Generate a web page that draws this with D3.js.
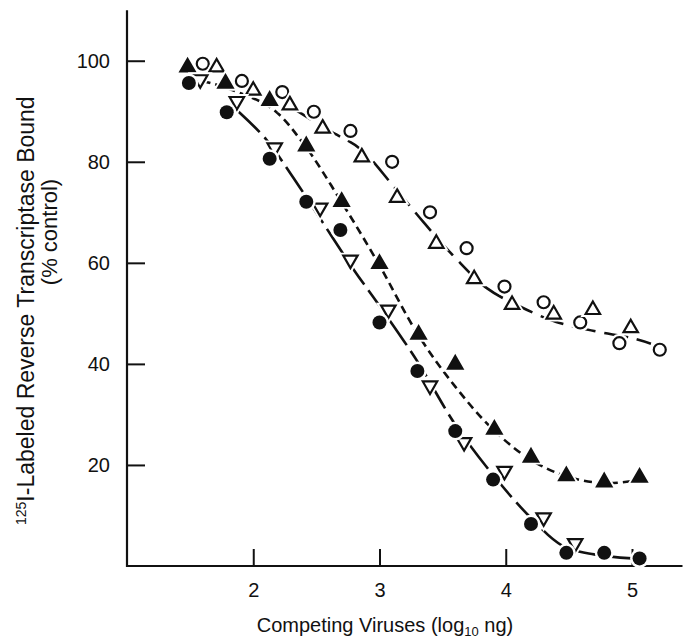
<!DOCTYPE html>
<html>
<head>
<meta charset="utf-8">
<script src="https://cdn.jsdelivr.net/npm/d3@7/dist/d3.min.js"></script>
<style>
  body { margin: 0; background: #fff; }
  text { font-family: "Liberation Sans", Arial, sans-serif; fill: #111; }
</style>
</head>
<body>
<div id="chart"></div>
<script>
// tick values
var xTicks = [2, 3, 4, 5];
var yTicks = [20, 40, 60, 80, 100];

// data points [log10 ng, % control]
var filledCircles = [[1.49, 95.6], [1.79, 89.8], [2.13, 80.6], [2.42, 72.1], [2.69, 66.5], [3.0, 48.2],
  [3.30, 38.6], [3.60, 26.7], [3.90, 17.1], [4.20, 8.3], [4.48, 2.6], [4.78, 2.6], [5.06, 1.5]];
var openDownTriangles = [[1.58, 96.3], [1.87, 92.0], [2.17, 82.8], [2.53, 70.9], [2.77, 60.6], [3.07, 50.7],
  [3.40, 35.7], [3.67, 24.5], [3.99, 18.8], [4.30, 9.6], [4.55, 4.5]];
var filledTriangles = [[1.48, 98.7], [1.78, 95.5], [2.13, 92.1], [2.42, 83.1], [2.70, 72.1], [3.0, 59.8],
  [3.31, 45.8], [3.60, 39.9], [3.91, 27.0], [4.20, 21.5], [4.48, 17.8], [4.78, 16.6], [5.06, 17.5]];
var openCircles = [[1.60, 99.4], [1.91, 96.0], [2.23, 93.8], [2.48, 89.9], [2.77, 86.1], [3.10, 80.0],
  [3.40, 70.0], [3.69, 62.9], [3.99, 55.3], [4.30, 52.2], [4.59, 48.2], [4.90, 44.1], [5.22, 42.8]];
var openUpTriangles = [[1.71, 98.7], [2.0, 94.1], [2.29, 91.2], [2.55, 86.6], [2.86, 80.9], [3.14, 72.9],
  [3.45, 63.8], [3.75, 56.8], [4.05, 51.7], [4.38, 49.8], [4.69, 50.7], [4.99, 47.1]];

// hand-fitted curves
var curveA = [[1.88, 90.0], [2.1, 84.5], [2.3, 77.5], [2.55, 68.0], [2.8, 58.5], [3.0, 51.5], [3.3, 40.5],
  [3.6, 28.0], [3.9, 18.0], [4.2, 9.5], [4.45, 4.0], [4.7, 2.3], [5.0, 1.5]];
var curveB = [[1.6, 96.0], [1.8, 94.5], [2.15, 90.5], [2.4, 83.5], [2.7, 72.0], [3.0, 59.5], [3.3, 46.0],
  [3.6, 35.5], [3.9, 27.0], [4.2, 21.0], [4.5, 17.6], [4.8, 16.4], [5.05, 17.0]];
var curveC = [[2.3, 90.8], [2.6, 86.2], [2.85, 82.5], [3.1, 75.5], [3.35, 68.0], [3.6, 61.0], [3.85, 55.0],
  [4.1, 51.5], [4.4, 48.3], [4.7, 46.5], [5.0, 45.1], [5.15, 44.0]];

var svgWidth = 697;
var svgHeight = 642;

var svg = d3.select("#chart")
  .append("svg")
  .attr("width", svgWidth)
  .attr("height", svgHeight);

var xScale = d3.scaleLinear().domain([1, 5.4]).range([127, 682.5]);
var yScale = d3.scaleLinear().domain([0, 110]).range([566, 10.2]);

// axes
svg.append("line")
  .attr("x1", xScale(1)).attr("x2", xScale(1))
  .attr("y1", yScale(110)).attr("y2", yScale(0) + 1)
  .attr("stroke", "#111").attr("stroke-width", 2.2);
svg.append("line")
  .attr("x1", xScale(1) - 1).attr("x2", xScale(5.4))
  .attr("y1", yScale(0)).attr("y2", yScale(0))
  .attr("stroke", "#111").attr("stroke-width", 2.2);

var yAxis = svg.append("g")
  .attr("transform", `translate(${xScale(1)}, 0)`)
  .call(d3.axisRight(yScale).tickValues(yTicks).tickSize(18).tickFormat(d3.format("d")));
yAxis.select(".domain").remove();
yAxis.selectAll(".tick line").attr("stroke", "#111").attr("stroke-width", 2);
yAxis.selectAll(".tick text")
  .attr("x", -17).attr("text-anchor", "end")
  .attr("font-size", 20).attr("font-family", null).attr("fill", "#111");

var xAxis = svg.append("g")
  .attr("transform", `translate(0, ${yScale(0)})`)
  .call(d3.axisTop(xScale).tickValues(xTicks).tickSize(17).tickFormat(d3.format("d")));
xAxis.select(".domain").remove();
xAxis.selectAll(".tick line").attr("stroke", "#111").attr("stroke-width", 2);
xAxis.selectAll(".tick text")
  .attr("y", 31).attr("dy", 0)
  .attr("font-size", 20).attr("font-family", null).attr("fill", "#111");

// axis titles
var xTitle = svg.append("text")
  .attr("x", 385).attr("y", 632)
  .attr("text-anchor", "middle")
  .attr("font-size", 20);
xTitle.append("tspan").text("Competing Viruses (log");
xTitle.append("tspan").attr("font-size", 13).attr("dy", 4).text("10");
xTitle.append("tspan").attr("dy", -4).text(" ng)");

var yTitle = svg.append("text")
  .attr("transform", "translate(34, 525) rotate(-90)")
  .attr("text-anchor", "start")
  .attr("font-size", 23);
yTitle.append("tspan").attr("font-size", 14).attr("dy", -8).text("125");
yTitle.append("tspan").attr("dy", 8).text("I-Labeled Reverse Transcriptase Bound");

svg.append("text")
  .attr("transform", "translate(57, 232) rotate(-90)")
  .attr("text-anchor", "middle")
  .attr("font-size", 22)
  .text("(% control)");

// fitted curves
var line = d3.line()
  .x(d => xScale(d[0]))
  .y(d => yScale(d[1]))
  .curve(d3.curveCatmullRom);

svg.append("path").datum(curveA)
  .attr("d", line).attr("fill", "none")
  .attr("stroke", "#111").attr("stroke-width", 2.6)
  .attr("stroke-dasharray", "30,7");
svg.append("path").datum(curveB)
  .attr("d", line).attr("fill", "none")
  .attr("stroke", "#111").attr("stroke-width", 2.6)
  .attr("stroke-dasharray", "8,5");
svg.append("path").datum(curveC)
  .attr("d", line).attr("fill", "none")
  .attr("stroke", "#111").attr("stroke-width", 2.6)
  .attr("stroke-dasharray", "24,9");

// markers (white halo first so lines break around them)
var triUp = d3.symbol().type(d3.symbolTriangle).size(90);

function drawCircles(data, filled) {
  var g = svg.append("g");
  g.selectAll("circle.halo").data(data).enter().append("circle")
    .attr("cx", d => xScale(d[0])).attr("cy", d => yScale(d[1]))
    .attr("r", 7).attr("fill", "#fff").attr("stroke", "#fff").attr("stroke-width", 5);
  g.selectAll("circle.mark").data(data).enter().append("circle")
    .attr("cx", d => xScale(d[0])).attr("cy", d => yScale(d[1]))
    .attr("r", filled ? 7 : 6)
    .attr("fill", filled ? "#111" : "#fff")
    .attr("stroke", "#111").attr("stroke-width", filled ? 0 : 2.2);
}

function drawTriangles(data, filled, down) {
  var g = svg.append("g");
  var rot = down ? " rotate(180)" : "";
  g.selectAll("path.halo").data(data).enter().append("path")
    .attr("d", triUp)
    .attr("transform", d => `translate(${xScale(d[0])}, ${yScale(d[1])})${rot}`)
    .attr("fill", "#fff").attr("stroke", "#fff").attr("stroke-width", 6);
  g.selectAll("path.mark").data(data).enter().append("path")
    .attr("d", triUp)
    .attr("transform", d => `translate(${xScale(d[0])}, ${yScale(d[1])})${rot}`)
    .attr("fill", filled ? "#111" : "#fff")
    .attr("stroke", "#111").attr("stroke-width", 2.2)
    .attr("stroke-linejoin", "miter");
}

drawCircles(openCircles, false);
drawTriangles(openUpTriangles, false, false);
drawTriangles(filledTriangles, true, false);
drawTriangles(openDownTriangles, false, true);
drawCircles(filledCircles, true);
</script>
</body>
</html>
